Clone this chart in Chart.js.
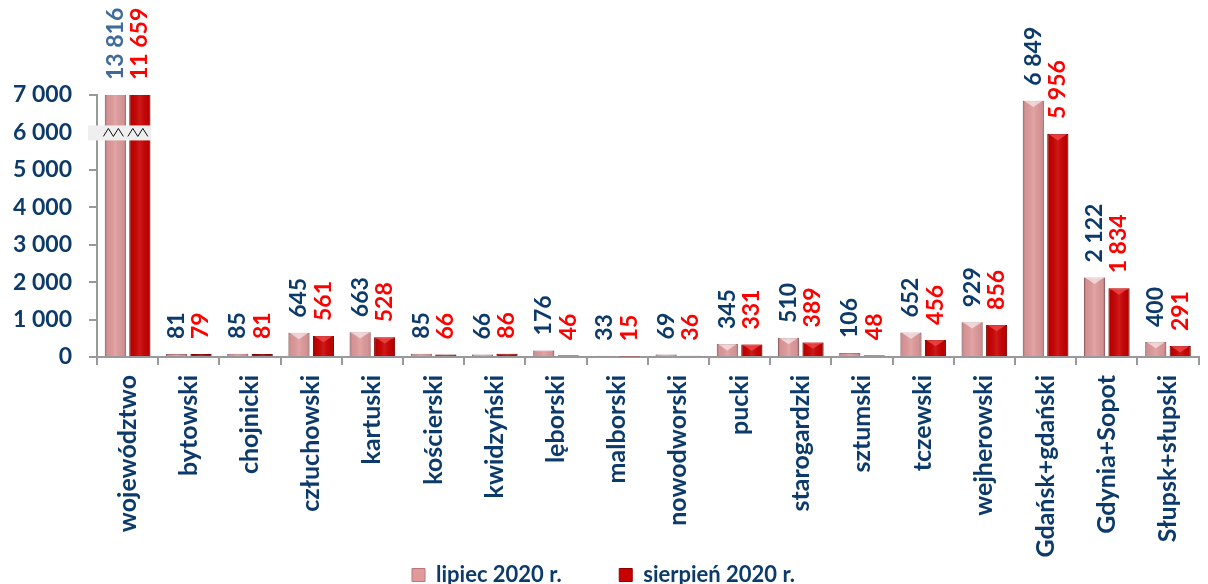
<!DOCTYPE html>
<html lang="pl">
<head>
<meta charset="UTF-8">
<title>lipiec / sierpień 2020</title>
<script src="https://cdn.jsdelivr.net/npm/chart.js"></script>
<style>
body { margin: 0; background: #fff; }
#wrap { width: 1208px; height: 584px; position: relative; }
</style>
</head>
<body>
<div id="wrap"><canvas id="chart"></canvas></div>
<script>
// dane
var categories = ['województwo', 'bytowski', 'chojnicki', 'człuchowski', 'kartuski', 'kościerski',
    'kwidzyński', 'lęborski', 'malborski', 'nowodworski', 'pucki', 'starogardzki', 'sztumski',
    'tczewski', 'wejherowski', 'Gdańsk+gdański', 'Gdynia+Sopot', 'Słupsk+słupski'];
var lipiec = [13816, 81, 85, 645, 663, 85, 66, 176, 33, 69, 345, 510, 106, 652, 929, 6849, 2122, 400];
var sierpien = [11659, 79, 81, 561, 528, 66, 86, 46, 15, 36, 331, 389, 48, 456, 856, 5956, 1834, 291];
var seriesNames = ['lipiec 2020 r.', 'sierpień 2020 r.'];
var yMax = 7000;
var yBreak = 6000;

var navy = '#0b3a6b';
var fontFam = 'Lato, "Open Sans", sans-serif';

function fmt(v) {
    return String(v).replace(/\B(?=(\d{3})+(?!\d))/g, ' ');
}

// etykiety nad słupkami (pionowe)
var labelsPlugin = {
    id: 'pionoweEtykiety',
    afterDatasetsDraw: function(chart) {
        var ctx = chart.ctx, area = chart.chartArea;

        // cieniowanie słupków
        ctx.save();
        ctx.beginPath();
        ctx.rect(area.left, area.top, area.right - area.left, area.bottom - area.top);
        ctx.clip();
        chart.data.datasets.forEach(function(ds, di) {
            chart.getDatasetMeta(di).data.forEach(function(bar) {
                var l = bar.x - bar.width / 2, r = bar.x + bar.width / 2;
                var top = Math.max(bar.y, area.top), bot = bar.base;
                if (bot - top < 1) return;
                var g = ctx.createLinearGradient(l, 0, r, 0);
                g.addColorStop(0, 'rgba(0,0,0,0.22)');
                g.addColorStop(0.12, 'rgba(0,0,0,0.05)');
                g.addColorStop(0.5, 'rgba(255,255,255,0.10)');
                g.addColorStop(0.88, 'rgba(0,0,0,0.05)');
                g.addColorStop(1, 'rgba(0,0,0,0.25)');
                ctx.fillStyle = g;
                ctx.fillRect(l, top, r - l, bot - top);
                if (bar.y >= area.top && bot - top > 6) {
                    var h = Math.min(bar.width * 0.3, bot - top);
                    ctx.beginPath();
                    ctx.moveTo(l + 1, top);
                    ctx.lineTo(r - 1, top);
                    ctx.lineTo(bar.x, top + h);
                    ctx.closePath();
                    ctx.fillStyle = di === 0 ? 'rgba(255,255,255,0.55)' : 'rgba(255,90,90,0.6)';
                    ctx.fill();
                }
            });
        });
        ctx.restore();

        // wartości
        ctx.save();
        ctx.font = 'bold 23px ' + fontFam;
        ctx.textAlign = 'left';
        ctx.textBaseline = 'middle';
        chart.data.datasets.forEach(function(ds, di) {
            chart.getDatasetMeta(di).data.forEach(function(bar, i) {
                var y = Math.max(bar.y, area.top) - 15;
                ctx.save();
                ctx.translate(bar.x, y);
                ctx.rotate(-Math.PI / 2);
                if (di === 0) ctx.fillStyle = i === 0 ? '#3f6a9c' : navy;
                else ctx.fillStyle = '#ff0000';
                ctx.fillText(fmt(ds.data[i]), 0, 0);
                ctx.restore();
            });
        });
        ctx.restore();
    },
    afterDraw: function(chart) {
        // przerwanie osi
        var ctx = chart.ctx, ys = chart.scales.y;
        var yb = ys.getPixelForValue(yBreak);
        var b0 = chart.getDatasetMeta(0).data[0], b1 = chart.getDatasetMeta(1).data[0];
        var x0 = ys.right - 9, x1 = b1.x + b1.width / 2 + 1;
        ctx.save();
        ctx.fillStyle = '#efefef';
        ctx.fillRect(x0, yb - 7, x1 - x0, 15);
        ctx.strokeStyle = '#111';
        ctx.lineWidth = 1;
        [b0, b1].forEach(function(b) {
            var cx = b.x - 2, w = 20;
            ctx.beginPath();
            ctx.moveTo(cx - w / 2, yb + 4);
            ctx.lineTo(cx - w / 4, yb - 4);
            ctx.lineTo(cx, yb + 4);
            ctx.lineTo(cx + w / 4, yb - 4);
            ctx.lineTo(cx + w / 2, yb + 4);
            ctx.stroke();
        });
        ctx.restore();
    }
};

var chart = new Chart(document.getElementById('chart'), {
    type: 'bar',
    data: {
        labels: categories,
        datasets: [{
            label: seriesNames[0],
            data: lipiec,
            backgroundColor: '#e09a9c',
            borderColor: '#b87678',
            borderWidth: 1,
            borderSkipped: 'bottom',
            categoryPercentage: 0.8,
            barPercentage: 0.86
        }, {
            label: seriesNames[1],
            data: sierpien,
            backgroundColor: '#c80000',
            borderColor: '#8e0000',
            borderWidth: 1,
            borderSkipped: 'bottom',
            categoryPercentage: 0.8,
            barPercentage: 0.86
        }]
    },
    options: {
        responsive: true,
        maintainAspectRatio: false,
        animation: false,
        layout: { padding: { top: 95, right: 1, left: 0, bottom: -12 } },
        plugins: {
            legend: {
                position: 'bottom',
                labels: {
                    color: navy,
                    font: { family: fontFam, size: 22, weight: 'bold' },
                    boxWidth: 13,
                    boxHeight: 13,
                    padding: 4,
                    generateLabels: function(chart) {
                        return chart.data.datasets.map(function(ds, i) {
                            return {
                                text: i === 0 ? ds.label + '          ' : ds.label,
                                fillStyle: ds.backgroundColor,
                                strokeStyle: ds.borderColor,
                                lineWidth: 1,
                                datasetIndex: i,
                                fontColor: navy
                            };
                        });
                    }
                }
            },
            tooltip: { enabled: false }
        },
        scales: {
            x: {
                afterFit: function(scale) { scale.height = 203; },
                grid: { drawOnChartArea: false, color: '#999', tickLength: 8, lineWidth: 2 },
                border: { color: '#999', width: 2 },
                ticks: {
                    color: navy,
                    minRotation: 90,
                    maxRotation: 90,
                    autoSkip: false,
                    padding: 10,
                    font: { family: fontFam, size: 25, weight: 'bold' }
                }
            },
            y: {
                min: 0,
                max: yMax,
                afterFit: function(scale) { scale.width = 97; },
                grid: { drawOnChartArea: false, color: '#999', tickLength: 8, lineWidth: 2 },
                border: { color: '#999', width: 2 },
                ticks: {
                    stepSize: 1000,
                    color: navy,
                    padding: 17,
                    font: { family: fontFam, size: 23, weight: 'bold' },
                    callback: function(v) { return fmt(v); }
                }
            }
        }
    },
    plugins: [labelsPlugin]
});
</script>
</body>
</html>
